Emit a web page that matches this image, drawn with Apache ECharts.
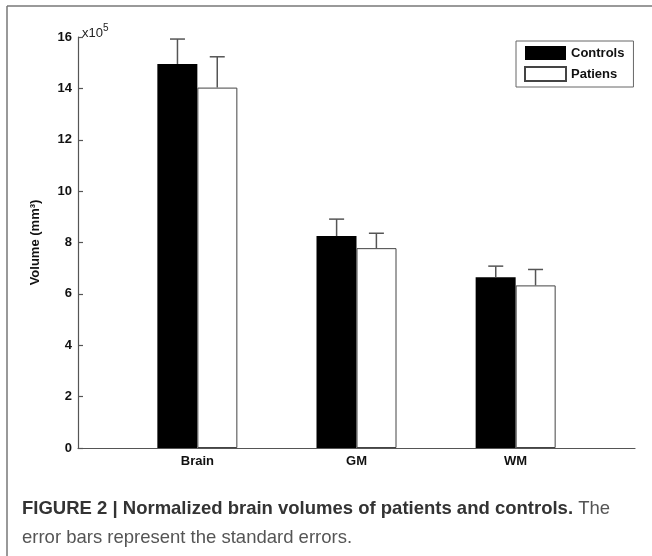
<!DOCTYPE html>
<html>
<head>
<meta charset="utf-8">
<script src="https://cdn.jsdelivr.net/npm/echarts@6/dist/echarts.min.js"></script>
<style>
html,body{margin:0;padding:0;background:#fff;}
#chart{width:652px;height:556px;}
</style>
</head>
<body>
<div id="chart"></div>
<script>
// Data (volumes in units of 10^5 mm^3)
const categories = ['Brain', 'GM', 'WM'];
const categoryPositions = [1, 2, 3];
const controlsMean = [14.95, 8.25, 6.65];
const controlsErr = [0.97, 0.66, 0.43];
const patientsMean = [14.03, 7.78, 6.33];
const patientsErr = [1.20, 0.58, 0.62];
const yTicks = [0, 2, 4, 6, 8, 10, 12, 14, 16];
const seriesNames = ['Controls', 'Patiens'];

const chart = echarts.init(document.getElementById('chart'));
const FONT = 'Liberation Sans, Arial, Helvetica, sans-serif';

function barData(means) {
  return means.map((v, i) => [categoryPositions[i], v]);
}
function errData(means, errs) {
  return means.map((v, i) => [categoryPositions[i], v, errs[i]]);
}
function errRenderer(side) {
  return function (params, api) {
    const x = api.value(0);
    const v = api.value(1);
    const e = api.value(2);
    const half = api.size([0.125, 0])[0];
    const base = api.coord([x, v]);
    const top = api.coord([x, v + e]);
    const cx = base[0] + side * half;
    const cap = 7.5;
    const style = { stroke: '#555', lineWidth: 1.5 };
    return {
      type: 'group',
      children: [
        { type: 'line', shape: { x1: cx, y1: base[1], x2: cx, y2: top[1] }, style: style },
        { type: 'line', shape: { x1: cx - cap, y1: top[1], x2: cx + cap, y2: top[1] }, style: style }
      ]
    };
  };
}

const option = {
  backgroundColor: '#fff',
  animation: false,
  textStyle: { fontFamily: FONT },
  grid: { left: 78, right: 17, top: 37, bottom: 108 },
  legend: {
    orient: 'vertical',
    left: 516,
    top: 41,
    padding: [5, 9, 5, 8],
    itemGap: 6,
    itemWidth: 41,
    itemHeight: 14,
    borderColor: '#666',
    borderWidth: 1,
    data: [
      { name: seriesNames[0], icon: 'rect' },
      { name: seriesNames[1], icon: 'rect' }
    ],
    textStyle: { fontFamily: FONT, fontWeight: 'bold', fontSize: 13, color: '#111' }
  },
  xAxis: {
    type: 'value',
    min: 0.25,
    max: 3.75,
    splitLine: { show: false },
    axisLine: { show: true, onZero: false, lineStyle: { color: '#555', width: 1.2 } },
    axisTick: { show: false },
    axisLabel: {
      customValues: categoryPositions,
      formatter: function (v) {
        const i = categoryPositions.indexOf(v);
        return i >= 0 ? categories[i] : '';
      },
      fontFamily: FONT, fontWeight: 'bold', fontSize: 13, color: '#111', margin: 7
    }
  },
  yAxis: {
    type: 'value',
    min: yTicks[0],
    max: yTicks[yTicks.length - 1],
    interval: 2,
    name: 'Volume (mm³)',
    nameLocation: 'middle',
    nameRotate: 90,
    nameGap: 36,
    nameTextStyle: { fontFamily: FONT, fontWeight: 'bold', fontSize: 13, color: '#111' },
    splitLine: { show: false },
    axisLine: { show: true, lineStyle: { color: '#555', width: 1.2 } },
    axisTick: { show: true, inside: false, length: -5, lineStyle: { color: '#555', width: 1.2 } },
    axisLabel: {
      fontFamily: FONT, fontWeight: 'bold', fontSize: 13, color: '#111', margin: 6
    }
  },
  series: [
    {
      name: seriesNames[0],
      type: 'bar',
      data: barData(controlsMean),
      barWidth: 40,
      barGap: '0%',
      itemStyle: { color: '#000', borderColor: '#000', borderWidth: 0 },
      z: 2
    },
    {
      name: seriesNames[1],
      type: 'bar',
      data: barData(patientsMean),
      barWidth: 40,
      barGap: '0%',
      itemStyle: { color: '#fff', borderColor: '#444', borderWidth: 1 },
      z: 2
    },
    {
      type: 'custom',
      name: 'ctrlErr',
      renderItem: errRenderer(-1),
      data: errData(controlsMean, controlsErr),
      z: 3,
      silent: true
    },
    {
      type: 'custom',
      name: 'patErr',
      renderItem: errRenderer(1),
      data: errData(patientsMean, patientsErr),
      z: 3,
      silent: true
    }
  ],
  graphic: [
    { type: 'line', shape: { x1: 7, y1: 6, x2: 652, y2: 6 }, style: { stroke: '#777', lineWidth: 1.5 } },
    { type: 'line', shape: { x1: 7, y1: 6, x2: 7, y2: 556 }, style: { stroke: '#777', lineWidth: 1.5 } },
    {
      type: 'text', left: 82, top: 23,
      style: {
        text: '{a|x10}{s|5}',
        rich: {
          a: { fontFamily: FONT, fontSize: 13, fill: '#222', verticalAlign: 'bottom' },
          s: { fontFamily: FONT, fontSize: 10, fill: '#222', padding: [0, 0, 7, 0], verticalAlign: 'bottom' }
        }
      }
    },
    {
      type: 'text', left: 22, top: 499,
      style: {
        text: '{b|FIGURE 2 | Normalized brain volumes of patients and controls.}{n| The}',
        rich: {
          b: { fontFamily: FONT, fontSize: 18.5, fontWeight: 'bold', fill: '#333' },
          n: { fontFamily: FONT, fontSize: 18.5, fill: '#555' }
        }
      }
    },
    {
      type: 'text', left: 22, top: 528,
      style: { text: 'error bars represent the standard errors.', fontFamily: FONT, fontSize: 18.5, fill: '#555' }
    }
  ]
};
chart.setOption(option);
</script>
</body>
</html>
